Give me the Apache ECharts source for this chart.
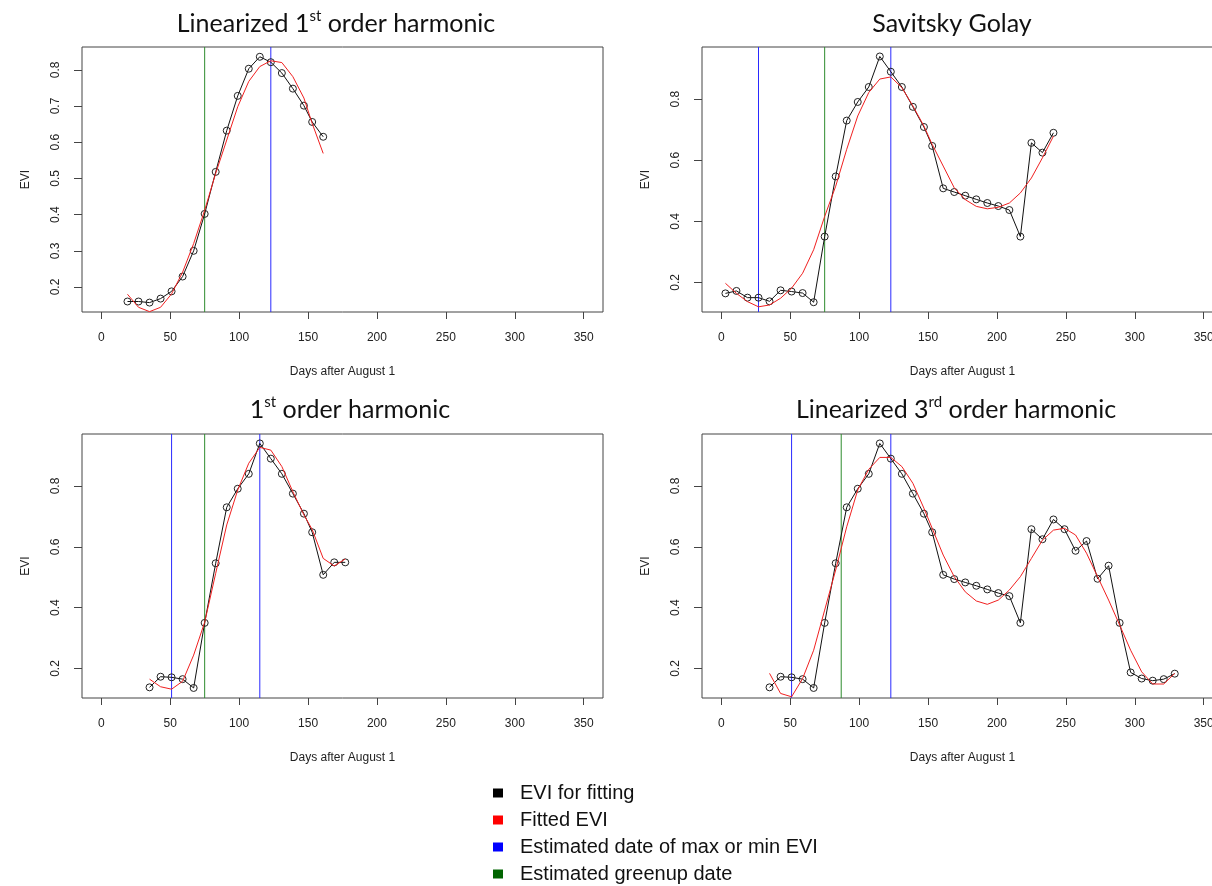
<!DOCTYPE html>
<html>
<head>
<meta charset="utf-8">
<script src="https://cdn.jsdelivr.net/npm/echarts@6.0.0/dist/echarts.min.js"></script>
<style>
  html, body { margin: 0; padding: 0; background: #fff; }
  #main { width: 1212px; height: 886px; }
</style>
</head>
<body>
<div id="main"></div>
<script>
// x tick labels shared by all panels
var dayTicks = [0, 50, 100, 150, 200, 250, 300, 350];
var eviTicksFine = [0.2, 0.3, 0.4, 0.5, 0.6, 0.7, 0.8];
var eviTicks = [0.2, 0.4, 0.6, 0.8];

// Linearized 1st order harmonic
var lin1Days = [19, 27, 35, 43, 51, 59, 67, 75, 83, 91, 99, 107, 115, 123, 131, 139, 147, 153, 161];
var lin1Evi = [0.160, 0.160, 0.157, 0.168, 0.188, 0.229, 0.300, 0.402, 0.518, 0.632, 0.728, 0.803, 0.836, 0.821, 0.791, 0.748, 0.701, 0.656, 0.615];
var lin1Fit = [0.180, 0.144, 0.132, 0.144, 0.181, 0.241, 0.320, 0.412, 0.514, 0.606, 0.698, 0.768, 0.809, 0.825, 0.820, 0.781, 0.722, 0.652, 0.569];

// Savitsky Golay
var sgDays = [3, 11, 19, 27, 35, 43, 51, 59, 67, 75, 83, 91, 99, 107, 115, 123, 131, 139, 147, 153, 161, 169, 177, 185, 193, 201, 209, 217, 225, 233, 241];
var sgEvi = [0.164, 0.172, 0.150, 0.150, 0.138, 0.174, 0.170, 0.165, 0.135, 0.350, 0.547, 0.730, 0.791, 0.840, 0.940, 0.890, 0.840, 0.775, 0.709, 0.647, 0.508, 0.496, 0.484, 0.472, 0.460, 0.450, 0.437, 0.350, 0.657, 0.625, 0.690];
var sgFit = [0.197, 0.164, 0.137, 0.120, 0.126, 0.148, 0.181, 0.230, 0.307, 0.416, 0.515, 0.636, 0.745, 0.822, 0.866, 0.873, 0.838, 0.778, 0.712, 0.652, 0.581, 0.510, 0.471, 0.449, 0.441, 0.446, 0.460, 0.493, 0.542, 0.608, 0.679];

// 1st order harmonic
var h1Days = [35, 43, 51, 59, 67, 75, 83, 91, 99, 107, 115, 123, 131, 139, 147, 153, 161, 169, 177];
var h1Evi = [0.138, 0.173, 0.171, 0.165, 0.136, 0.350, 0.546, 0.730, 0.791, 0.840, 0.940, 0.890, 0.840, 0.775, 0.709, 0.648, 0.508, 0.549, 0.549];
var h1Fit = [0.165, 0.140, 0.132, 0.158, 0.244, 0.352, 0.513, 0.672, 0.787, 0.875, 0.927, 0.918, 0.864, 0.781, 0.705, 0.657, 0.562, 0.537, 0.560];

// Linearized 3rd order harmonic
var lin3Days = [35, 43, 51, 59, 67, 75, 83, 91, 99, 107, 115, 123, 131, 139, 147, 153, 161, 169, 177, 185, 193, 201, 209, 217, 225, 233, 241, 249, 257, 265, 273, 281, 289, 297, 305, 313, 321, 329];
var lin3Evi = [0.138, 0.173, 0.171, 0.165, 0.136, 0.350, 0.546, 0.730, 0.791, 0.840, 0.940, 0.890, 0.840, 0.775, 0.709, 0.648, 0.508, 0.494, 0.483, 0.472, 0.460, 0.448, 0.438, 0.350, 0.658, 0.625, 0.690, 0.658, 0.587, 0.619, 0.495, 0.538, 0.350, 0.187, 0.167, 0.160, 0.165, 0.183];
var lin3Fit = [0.184, 0.118, 0.107, 0.167, 0.260, 0.392, 0.524, 0.666, 0.787, 0.855, 0.894, 0.894, 0.864, 0.809, 0.727, 0.661, 0.573, 0.502, 0.452, 0.422, 0.411, 0.425, 0.458, 0.502, 0.562, 0.622, 0.655, 0.661, 0.639, 0.579, 0.502, 0.425, 0.343, 0.260, 0.189, 0.149, 0.149, 0.184];

// vertical marker dates
var lin1MaxMin = [123], lin1Greenup = [75];
var sgMaxMin = [27, 123], sgGreenup = [75];
var h1MaxMin = [51, 115], h1Greenup = [75];
var lin3MaxMin = [51, 123], lin3Greenup = [87];

var legendNames = ['EVI for fitting', 'Fitted EVI', 'Estimated date of max or min EVI', 'Estimated greenup date'];
var legendColors = ['#000000', '#ff0000', '#0000ff', '#006400'];

var titleFont = 'Lato';
var axisFont = 'Liberation Sans';
var blueLine = '#2a2aff', greenLine = '#2e8b2e';

function pairs(xs, ys) {
    var out = [];
    for (var i = 0; i < xs.length; i++) out.push([xs[i], ys[i]]);
    return out;
}

var panels = [
    {title: ['Linearized 1', 'st', ' order harmonic'], titleX: 336, titleY: 9, grid: {left: 82, top: 47, width: 521, height: 265},
     yMin: 0.131, yMax: 0.863, yTicks: eviTicksFine, days: lin1Days, evi: lin1Evi, fit: lin1Fit, maxMin: lin1MaxMin, greenup: lin1Greenup},
    {title: ['Savitsky Golay', '', ''], titleX: 952, titleY: 9, grid: {left: 702, top: 47, width: 521, height: 265},
     yMin: 0.103, yMax: 0.971, yTicks: eviTicks, days: sgDays, evi: sgEvi, fit: sgFit, maxMin: sgMaxMin, greenup: sgGreenup},
    {title: ['1', 'st', ' order harmonic'], titleX: 350, titleY: 395, grid: {left: 82, top: 434, width: 521, height: 264},
     yMin: 0.103, yMax: 0.971, yTicks: eviTicks, days: h1Days, evi: h1Evi, fit: h1Fit, maxMin: h1MaxMin, greenup: h1Greenup},
    {title: ['Linearized 3', 'rd', ' order harmonic'], titleX: 956, titleY: 395, grid: {left: 702, top: 434, width: 521, height: 264},
     yMin: 0.103, yMax: 0.971, yTicks: eviTicks, days: lin3Days, evi: lin3Evi, fit: lin3Fit, maxMin: lin3MaxMin, greenup: lin3Greenup}
];

var titles = [], grids = [], xAxes = [], yAxes = [], series = [];

// a vertical date line spanning the whole y range of a panel
function vLine(name, d, p, i, color) {
    return {
        type: 'line', name: name, xAxisIndex: i, yAxisIndex: i,
        data: [[d, p.yMin], [d, p.yMax]], symbol: 'none', showSymbol: false,
        itemStyle: {color: color}, lineStyle: {color: color, width: 1},
        emphasis: {disabled: true}, silent: true, z: 2
    };
}

panels.forEach(function (p, i) {
    var txt = '{a|' + p.title[0] + '}';
    if (p.title[1]) txt += '{s|' + p.title[1] + '}{a|' + p.title[2] + '}';
    titles.push({
        text: txt, left: p.titleX, top: p.titleY, textAlign: 'center', padding: 0,
        textStyle: {
            fontWeight: 'normal',
            rich: {
                a: {fontFamily: titleFont, fontSize: 25, fontWeight: 'normal', color: '#111', lineHeight: 30},
                s: {fontFamily: titleFont, fontSize: 15, fontWeight: 'normal', color: '#111', verticalAlign: 'top', lineHeight: 30, padding: [0, 0, 6, 0]}
            }
        }
    });
    grids.push(Object.assign({show: true, borderColor: '#444', borderWidth: 1, backgroundColor: 'transparent', outerBoundsMode: 'none', containLabel: false}, p.grid));
    xAxes.push({
        type: 'value', gridIndex: i, min: -14, max: 364,
        axisLine: {show: false, onZero: false}, splitLine: {show: false},
        axisTick: {show: true, length: 7, customValues: dayTicks, lineStyle: {color: '#444'}},
        axisLabel: {customValues: dayTicks, margin: 20, fontSize: 12, fontFamily: axisFont, color: '#222'},
        name: 'Days after August 1', nameLocation: 'middle', nameGap: 54,
        nameTextStyle: {fontSize: 12, fontFamily: axisFont, color: '#222'}
    });
    yAxes.push({
        type: 'value', gridIndex: i, min: p.yMin, max: p.yMax,
        axisLine: {show: false, onZero: false}, splitLine: {show: false},
        axisTick: {show: true, length: 8, customValues: p.yTicks, lineStyle: {color: '#444'}},
        axisLabel: {customValues: p.yTicks, rotate: 90, margin: 20, fontSize: 12, fontFamily: axisFont, color: '#222'},
        name: 'EVI', nameLocation: 'middle', nameGap: 50,
        nameTextStyle: {fontSize: 12, fontFamily: axisFont, color: '#222'}
    });
    // observed EVI, open circles joined by lines
    series.push({
        type: 'line', name: legendNames[0], xAxisIndex: i, yAxisIndex: i,
        data: pairs(p.days, p.evi), symbol: 'circle', symbolSize: 7, showSymbol: true,
        itemStyle: {color: 'rgba(0,0,0,0)', borderColor: '#222', borderWidth: 1},
        lineStyle: {color: '#111', width: 1}, emphasis: {disabled: true}, z: 3
    });
    // fitted curve
    series.push({
        type: 'line', name: legendNames[1], xAxisIndex: i, yAxisIndex: i,
        data: pairs(p.days, p.fit), symbol: 'none', showSymbol: false,
        itemStyle: {color: '#ff0000'}, lineStyle: {color: '#f02020', width: 1}, emphasis: {disabled: true}, z: 4
    });
    p.maxMin.forEach(function (d) { series.push(vLine(legendNames[2], d, p, i, blueLine)); });
    p.greenup.forEach(function (d) { series.push(vLine(legendNames[3], d, p, i, greenLine)); });
});

// one legend block per row so the rows keep the reference spacing
var legends = legendNames.map(function (n, k) {
    return {
        orient: 'vertical', left: 493, top: 783 + 27 * k, padding: 0, icon: 'rect',
        itemWidth: 10, itemHeight: 9, selectedMode: false,
        textStyle: {fontSize: 20, fontFamily: axisFont, color: '#111', padding: [0, 0, 0, 12]},
        data: [{name: n, itemStyle: {color: legendColors[k], borderWidth: 0, opacity: 1}}]
    };
});

var myChart = echarts.init(document.getElementById('main'));
myChart.setOption({
    animation: false,
    backgroundColor: '#fff',
    title: titles,
    grid: grids,
    xAxis: xAxes,
    yAxis: yAxes,
    legend: legends,
    series: series
});
</script>
</body>
</html>
